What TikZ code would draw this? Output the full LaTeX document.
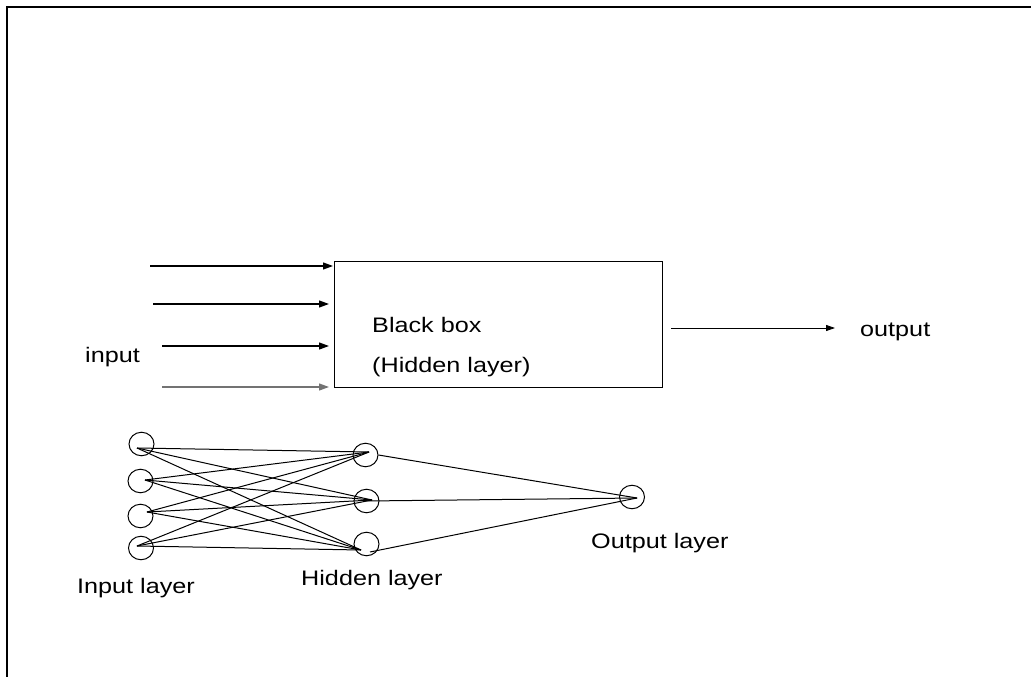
\documentclass[tikz,border=0pt]{standalone}
\usepackage{fontspec}
\setmainfont{Liberation Sans}[FakeStretch=1.2]
\usetikzlibrary{arrows.meta,shapes.geometric}
\begin{document}
\begin{tikzpicture}[x=1pt,y=-1pt,
  lbl/.style={anchor=base west,inner sep=0pt,font=\fontsize{21}{25}\selectfont},
  arr/.style={line width=1.2pt,-{Triangle[length=10pt,width=7pt]}},
  neuron/.style={draw,ellipse,line width=1pt,minimum width=25pt,minimum height=23.5pt,inner sep=0pt},
  wire/.style={line width=1pt}]
\useasboundingbox (0,0) rectangle (1031,677);
\draw[line width=2pt] (7,677) -- (7,7) -- (1031,7);
% black box
\node[draw,line width=1.2pt,minimum width=328pt,minimum height=126pt,inner sep=0pt,anchor=north west] (bb) at (334,261) {};
\node[lbl] (t1) at (372,332) {Black box};
\node[lbl] (t2) at (372,372) {(Hidden layer)};
\node[lbl] (tin) at (85,362) {input};
\node[lbl] (tout) at (860,336) {output};
% input arrows
\coordinate (a1) at (150,266); \coordinate (b1) at (333,266);
\coordinate (a2) at (153,304); \coordinate (b2) at (329,304);
\coordinate (a3) at (162,346); \coordinate (b3) at (329,346);
\coordinate (a4) at (162,387); \coordinate (b4) at (329,387);
\draw[arr] (a1) -- (b1);
\draw[arr] (a2) -- (b2);
\draw[arr] (a3) -- (b3);
\draw[arr,black!55] (a4) -- (b4);
\coordinate (oa) at (671,328); \coordinate (ob) at (835,328);
\draw[line width=0.9pt,-{Triangle[length=9pt,width=6pt]}] (oa) -- (ob);
% network
\node[neuron] (i1) at (141.5,444) {};
\node[neuron] (i2) at (140.5,481) {};
\node[neuron] (i3) at (140.5,516) {};
\node[neuron] (i4) at (141,548) {};
\node[neuron] (h1) at (365.5,455) {};
\node[neuron] (h2) at (366.5,501) {};
\node[neuron] (h3) at (366.5,544) {};
\node[neuron] (o1) at (632,497) {};
\coordinate (i1p) at (137,448);
\coordinate (i2p) at (145,480);
\coordinate (i3p) at (147,512);
\coordinate (i4p) at (137,546);
\coordinate (h1p) at (369,452);
\coordinate (h2p) at (372,500);
\coordinate (h3p) at (361,550);
\coordinate (h3q) at (370,552);
\coordinate (o1p) at (637,498);
\foreach \i in {1,2,3,4}{
  \foreach \h in {1,2,3}{
    \draw[wire] (i\i p) -- (h\h p);
  }
}
\draw[wire] (h1.east) -- (o1p);
\draw[wire] (h2.center) -- (o1p);
\draw[wire] (h3q) -- (o1p);
\node[lbl] (til) at (77,593) {Input layer};
\node[lbl] (thl) at (301,585) {Hidden layer};
\node[lbl] (tol) at (591,548) {Output layer};
\end{tikzpicture}
\end{document}
